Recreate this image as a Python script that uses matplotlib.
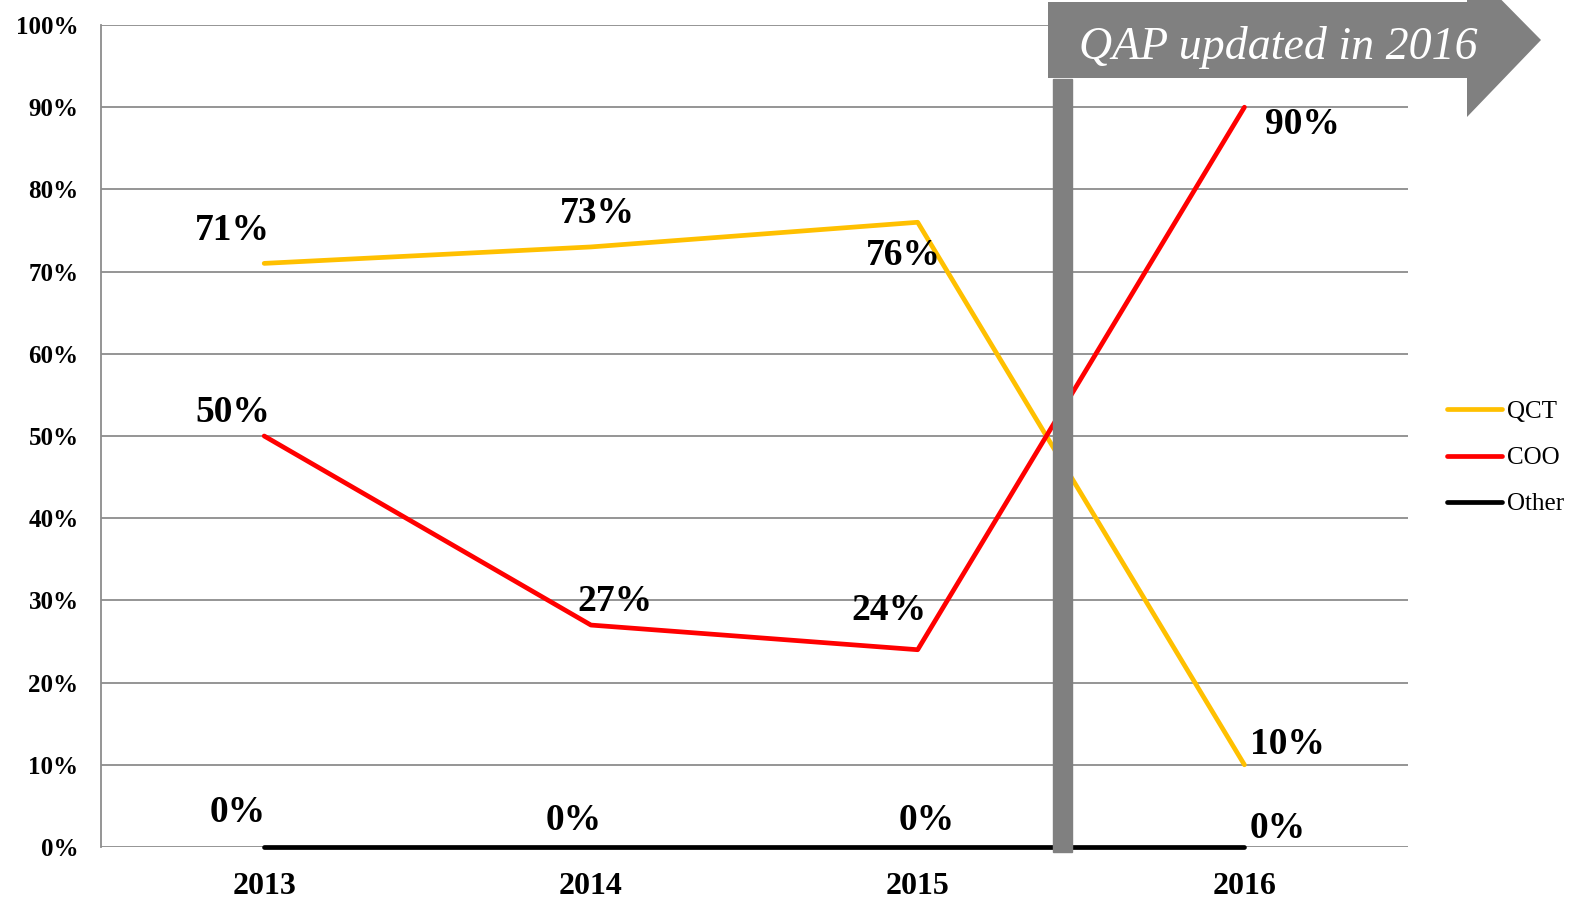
import matplotlib
matplotlib.use('Agg')
import matplotlib.pyplot as plt
from matplotlib.patches import Polygon, Rectangle
import matplotlib.transforms as mtransforms

years = ["2013", "2014", "2015", "2016"]
qct = [71, 73, 76, 10]
coo = [50, 27, 24, 90]
other = [0, 0, 0, 0]
yticks = [0, 10, 20, 30, 40, 50, 60, 70, 80, 90, 100]

# label offsets (pixels) for each series value
qct_off = [(-32, 33), (6, 33), (-14, -33), (43, 20)]
coo_off = [(-31, 24), (24, 24), (-29, 39), (58, -17)]
other_off = [(-26, 35), (-17, 26), (9, 26), (33, 18)]

W, H = 1575, 909
plt.rcParams['font.family'] = ['Liberation Serif', 'DejaVu Serif']

fig = plt.figure(figsize=(W / 100, H / 100), dpi=100)
ax = fig.add_axes([100.8 / W, 1 - 847 / H, 1307 / W, 822 / H])

x = [i + 0.5 for i in range(len(years))]
ax.set_xlim(0, 4)
ax.set_ylim(0, 100)

ax.set_yticks(yticks)
ax.set_yticklabels([f"{v}%" for v in yticks], fontsize=18, fontweight='bold')
ax.set_xticks(x)
ax.set_xticklabels(years, fontsize=23, fontweight='bold')
ax.tick_params(length=0)
ax.tick_params(axis='y', pad=16)
ax.tick_params(axis='x', pad=18)
ax.grid(axis='y', color='#8c8c8c', linewidth=1.3)
ax.set_axisbelow(True)
for s in ['top', 'right', 'bottom']:
    ax.spines[s].set_visible(False)
ax.spines['left'].set_color('#8c8c8c')
ax.spines['left'].set_linewidth(1.3)

series = [("QCT", qct, '#FFC000', qct_off),
          ("COO", coo, '#FF0000', coo_off),
          ("Other", other, '#000000', other_off)]
for name, vals, col, offs in series:
    ax.plot(x, vals, color=col, linewidth=3.4, label=name, solid_capstyle='round',
            clip_on=False, zorder=3)
    for xi, v, off in zip(x, vals, offs):
        ax.annotate(f"{v}%", xy=(xi, v), xytext=off, textcoords='offset pixels',
                    ha='center', va='center', fontsize=27, fontweight='bold', zorder=6)

# vertical marker bar between 2015 and 2016
trans = mtransforms.blended_transform_factory(ax.transData, ax.transAxes)
bar_x = 2.943
bar_w = 19 / 326.8
ax.add_patch(Rectangle((bar_x - bar_w / 2, -0.006), bar_w, 0.94, transform=trans,
                       color='#808080', clip_on=False, zorder=5))

# banner arrow in pixel coords (top-left origin)
pts = [(1048, 2), (1467, 2), (1467, -35), (1541, 40), (1467, 117), (1467, 78), (1048, 78)]
fig.patches.append(Polygon([(px / W, 1 - py / H) for px, py in pts], closed=True,
                           transform=fig.transFigure, facecolor='#808080',
                           edgecolor='none', zorder=10))
fig.text(1278 / W, 1 - 59 / H, "QAP updated in 2016", color='white', fontsize=33,
         style='italic', ha='center', va='baseline', zorder=11)

fig.legend(loc='center left', bbox_to_anchor=(1447 / W, 1 - 458 / H), frameon=False,
           fontsize=18, handlelength=2.2, handletextpad=0.2, labelspacing=0.95,
           borderpad=0, borderaxespad=0)

fig.savefig("out.png", dpi=100)
